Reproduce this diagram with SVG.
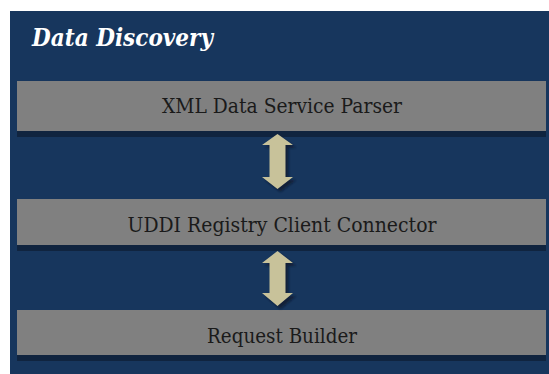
<svg xmlns="http://www.w3.org/2000/svg" width="549" height="374" viewBox="0 0 549 374">
  <style>
    .panel { fill: #17365d; }
    .box { fill: #808080; }
    .box-shadow { fill: #10243f; }
    .label { font-family: 'DejaVu Serif', serif; font-size: 20.5px; fill: #1a1a1a; text-anchor: middle; }
    .title { font-family: 'DejaVu Serif', serif; font-size: 25px; font-weight: bold; font-style: italic; fill: #ffffff; }
    .arrow { fill: #c8c29a; }
    .arrow-shadow { fill: #0c1a2e; opacity: 0.8; }
  </style>
  <defs>
    <filter id="soft" x="-20%" y="-20%" width="140%" height="140%">
      <feGaussianBlur stdDeviation="1.2"/>
    </filter>
  </defs>

  <rect width="549" height="374" fill="#ffffff"/>
  <rect class="panel" x="10" y="11" width="539" height="363"/>

  <text class="title" x="32" y="46" textLength="181" lengthAdjust="spacingAndGlyphs">Data Discovery</text>

  <g id="parser">
    <rect class="box-shadow" x="17" y="86" width="529" height="51"/>
    <rect class="box" x="17" y="81" width="529" height="50"/>
    <text class="label" x="282" y="113" textLength="240" lengthAdjust="spacingAndGlyphs">XML Data Service Parser</text>
  </g>

  <g id="connector">
    <rect class="box-shadow" x="17" y="204" width="529" height="47"/>
    <rect class="box" x="17" y="199" width="529" height="46"/>
    <text class="label" x="282" y="232" textLength="309" lengthAdjust="spacingAndGlyphs">UDDI Registry Client Connector</text>
  </g>

  <g id="builder">
    <rect class="box-shadow" x="17" y="315" width="529" height="46"/>
    <rect class="box" x="17" y="310" width="529" height="45"/>
    <text class="label" x="282" y="343" textLength="150" lengthAdjust="spacingAndGlyphs">Request Builder</text>
  </g>

  <g id="connectors">
    <!-- parser <-> registry connector -->
    <g transform="translate(3,3)" filter="url(#soft)">
      <polygon class="arrow-shadow" points="277.5,134 293,145 285.5,145 285.5,177 293,177 277.5,189 262,177 269.5,177 269.5,145 262,145"/>
    </g>
    <polygon class="arrow" points="277.5,134 293,145 285.5,145 285.5,177 293,177 277.5,189 262,177 269.5,177 269.5,145 262,145"/>

    <!-- registry connector <-> request builder -->
    <g transform="translate(3,3)" filter="url(#soft)">
      <polygon class="arrow-shadow" points="277.5,251 293,263 285.5,263 285.5,293 293,293 277.5,306 262,293 269.5,293 269.5,263 262,263"/>
    </g>
    <polygon class="arrow" points="277.5,251 293,263 285.5,263 285.5,293 293,293 277.5,306 262,293 269.5,293 269.5,263 262,263"/>
  </g>
</svg>
